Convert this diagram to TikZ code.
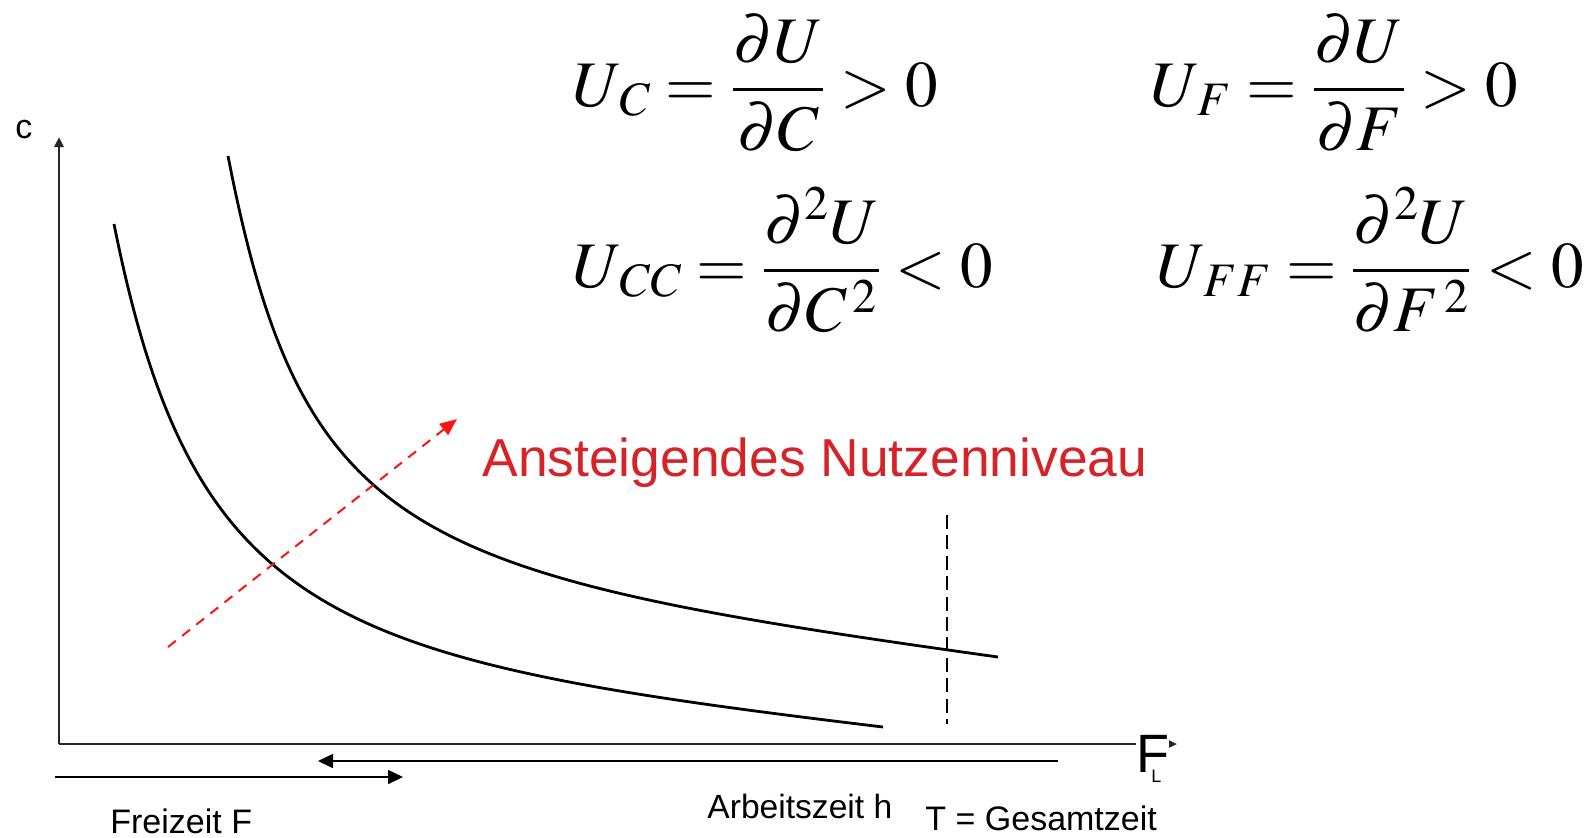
\documentclass[tikz,border=0pt]{standalone}
\usepackage{mathptmx}
\usepackage[no-math]{fontspec}
\newfontfamily\arial{Liberation Sans}
\usepackage{tikz}
\usetikzlibrary{arrows.meta,positioning,calc}
\definecolor{nutzenred}{RGB}{214,35,40}
\definecolor{pfeilred}{RGB}{250,20,20}

\begin{document}
\begin{tikzpicture}[x=0.5pt, y=-0.5pt,
    axis/.style={line width=1.3pt, draw=black!85},
    curve/.style={line width=1.4pt},
    lbl/.style={inner sep=0pt, anchor=base west},
    formel/.style={inner sep=0pt, anchor=base west, font=\fontsize{32.5}{38}\selectfont}]
  \useasboundingbox (0,0) rectangle (1588,837);

  % Nutzenbedingungen
  \node[formel] (uc)  at (572,106) {$\displaystyle U_{\,C} = \frac{\partial U}{\partial C} > 0$};
  \node[formel] (uf)  at (1150,106) {$\displaystyle U_{\,F} = \frac{\partial U}{\partial F} > 0$};
  \node[formel] (ucc) at (572,287) {$\displaystyle U_{\,CC} = \frac{\partial^2 U}{\partial C^{\,2}} < 0$};
  \node[formel] (uff) at (1156,287) {$\displaystyle U_{\,FF} = \frac{\partial^2 U}{\partial F^{\,2}} < 0$};

  % Achsen
  \coordinate (O) at (59,744);
  \coordinate (ytop) at (59,137);
  \coordinate (xtip) at (1177,744);
  \node[lbl, font=\arial\fontsize{27}{30}\selectfont] (F) at (1136,772) {F};
  \node[lbl, font=\arial\fontsize{9}{10}\selectfont] (L) at (1151,782) {L};
  \node[lbl, font=\arial\fontsize{17}{20}\selectfont] (c) at (15,138) {c};
  \draw[axis, -{Triangle[length=5pt,width=4.5pt]}] (O) -- (ytop);
  \draw[axis] (O) -- (O -| F.west);
  \draw[axis, -{Triangle[length=4pt,width=3.5pt]}] (F.east |- O) -- (xtip);

  % Indifferenzkurven
  \draw[curve] (114,224) .. controls (194,623) and (335,661) .. (883,727);
  \draw[curve] (228,156) .. controls (303,540) and (411,575) .. (998,657);

  % Richtung steigenden Nutzens
  \coordinate (nstart) at (168,647);
  \coordinate (nend) at (457,419);
  \draw[pfeilred, line width=1pt, dash pattern=on 5pt off 4pt,
    -{Triangle[length=8.5pt,width=7pt]}] (nstart) -- (nend);
  \node[lbl, text=nutzenred, font=\arial\fontsize{26.7}{30}\selectfont] (niveau) at (482,476) {Ansteigendes Nutzenniveau};

  % Gesamtzeit T
  \coordinate (ttop) at (947,515);
  \coordinate (tbot) at (947,724);
  \draw[line width=1pt, dash pattern=on 7pt off 3.2pt] (ttop) -- (tbot);

  % Freizeit und Arbeitszeit
  \coordinate (hA) at (1058,761);
  \coordinate (hB) at (318,761);
  \coordinate (fA) at (55,777);
  \coordinate (fB) at (403,777);
  \draw[line width=0.8pt, -{Triangle[length=7.5pt,width=7pt]}] (hA) -- (hB);
  \draw[line width=0.8pt, -{Triangle[length=7.5pt,width=7pt]}] (fA) -- (fB);
  \node[lbl, font=\arial\fontsize{17}{20}\selectfont] (freizeit) at (110,833) {Freizeit F};
  \node[lbl, font=\arial\fontsize{16.8}{20}\selectfont] (arbeit) at (707,818) {Arbeitszeit h};
  \node[lbl, font=\arial\fontsize{17}{20}\selectfont] (gesamt) at (925,830) {T = Gesamtzeit};
\end{tikzpicture}
\end{document}
